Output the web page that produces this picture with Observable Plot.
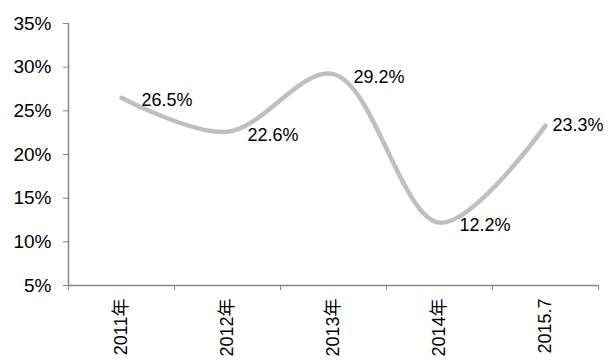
<!DOCTYPE html>
<html>
<head>
<meta charset="utf-8">
<script src="https://cdn.jsdelivr.net/npm/d3@7"></script>
<script src="https://cdn.jsdelivr.net/npm/@observablehq/plot@0.6"></script>
<style>
  html, body { margin: 0; padding: 0; background: #fff; }
  #chart svg { display: block; }
</style>
</head>
<body>
<div id="chart"></div>
<script>
const categories = ["2011年", "2012年", "2013年", "2014年", "2015.7"];
const values = [26.5, 22.6, 29.2, 12.2, 23.3];
const valueLabels = ["26.5%", "22.6%", "29.2%", "12.2%", "23.3%"];
const yTicks = [5, 10, 15, 20, 25, 30, 35];

const data = categories.map((c, i) => ({cat: c, pos: i + 0.5, value: values[i], label: valueLabels[i], last: i === categories.length - 1}));
const boundaries = d3.range(categories.length + 1);
const centers = categories.map((c, i) => i + 0.5);

const axisColor = "#868686";
const font = "'Liberation Sans', Arial, 'Noto Sans CJK SC', sans-serif";
const chart = Plot.plot({
  width: 609,
  height: 362,
  marginLeft: 68,
  marginRight: 11,
  marginTop: 23,
  marginBottom: 77,
  style: {fontFamily: font, fontSize: "18px", color: "#000", background: "#fff"},
  x: {type: "linear", domain: [0, categories.length]},
  y: {domain: [5, 35]},
  marks: [
    Plot.axisY({ticks: yTicks, tickFormat: d => d + "%", tickSize: 5, tickPadding: 12, stroke: axisColor, fill: "#000", label: null, fontSize: 19}),
    Plot.axisX({ticks: boundaries, tickFormat: () => "", tickSize: 5, stroke: axisColor, label: null}),
    Plot.axisX({ticks: centers, tickFormat: d => categories[Math.round(d - 0.5)], tickSize: 0, tickPadding: 13, tickRotate: -90, fill: "#000", label: null, fontSize: 18}),
    Plot.ruleX([0], {stroke: axisColor, strokeWidth: 1.5}),
    Plot.ruleY([5], {stroke: axisColor, strokeWidth: 1.5}),
    Plot.line(data, {x: "pos", y: "value", curve: "catmull-rom", stroke: "#bfbfbf", strokeWidth: 4.5, strokeLinecap: "round"}),
    Plot.text(data.filter(d => !d.last), {x: "pos", y: "value", text: "label", textAnchor: "start", dx: 20, dy: 3, fontSize: 18, fill: "#000"}),
    Plot.text(data.filter(d => d.last), {x: "pos", y: "value", text: "label", textAnchor: "start", dx: 7, dy: 0, fontSize: 18, fill: "#000"})
  ]
});
document.getElementById("chart").appendChild(chart);
</script>
</body>
</html>
